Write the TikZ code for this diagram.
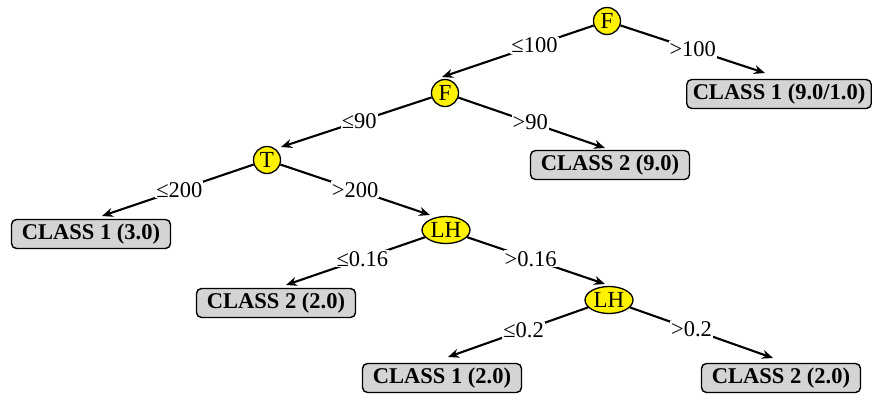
\documentclass[tikz,border=0pt]{standalone}
\usepackage{fontspec}
\setmainfont{Liberation Serif}
\usetikzlibrary{arrows.meta,shapes.geometric}
\tikzset{
  x=1pt, y=-1pt,
  test/.style={draw=black, line width=1.3pt, fill=yellow, font=\fontsize{23}{23}\selectfont, inner sep=0pt},
  testc/.style={test, circle, minimum size=27pt},
  teste/.style={test, ellipse, minimum width=48pt, minimum height=27pt},
  leaf/.style={draw=black, line width=1.4pt, fill=black!17, rounded corners=5pt, font=\fontsize{22.5}{22.5}\bfseries\selectfont, minimum height=29pt, minimum width=159pt, inner xsep=6pt, inner ysep=0pt},
  edge/.style={line width=2.1pt, -{Stealth[length=11pt,width=9pt]}},
  lab/.style={fill=white, inner sep=1pt, font=\fontsize{22.5}{22.5}\selectfont},
}
\begin{document}
\begin{tikzpicture}
\useasboundingbox (0,0) rectangle (872,394);
\node[testc] (F1) at (607,21) {F};
\node[testc] (F2) at (445,93) {F};
\node[testc] (T) at (267,160) {T};
\node[teste] (LH1) at (446,230) {LH};
\node[teste] (LH2) at (609,300) {LH};
\node[leaf] (C1a) at (779,94) {CLASS 1 (9.0/1.0)};
\node[leaf] (C2a) at (610,165) {CLASS 2 (9.0)};
\node[leaf] (C1b) at (91,234) {CLASS 1 (3.0)};
\node[leaf] (C2b) at (276,303) {CLASS 2 (2.0)};
\node[leaf] (C1c) at (442,378) {CLASS 1 (2.0)};
\node[leaf] (C2c) at (781,378) {CLASS 2 (2.0)};
\coordinate (t1) at (442,77);
\coordinate (t2) at (765,73);
\coordinate (t3) at (281,147);
\coordinate (t4) at (605,148);
\coordinate (t5) at (102,216);
\coordinate (t6) at (430,215);
\coordinate (t7) at (286,285);
\coordinate (t8) at (605,284);
\coordinate (t9) at (448,357);
\coordinate (t10) at (773,358);
\draw[edge] (F1) -- node[lab,pos=0.39] {≤100} (t1);
\draw[edge] (F1) -- node[lab,pos=0.5] {>100} (t2);
\draw[edge] (F2) -- node[lab,pos=0.48] {≤90} (t3);
\draw[edge] (F2) -- node[lab,pos=0.49] {>90} (t4);
\draw[edge] (T) -- node[lab,pos=0.49] {≤200} (t5);
\draw[edge] (T) -- node[lab,pos=0.5] {>200} (t6);
\draw[edge] (LH1) -- node[lab,pos=0.45] {≤0.16} (t7);
\draw[edge] (LH1) -- node[lab,pos=0.46] {>0.16} (t8);
\draw[edge] (LH2) -- node[lab,pos=0.46] {≤0.2} (t9);
\draw[edge] (LH2) -- node[lab,pos=0.43] {>0.2} (t10);
\end{tikzpicture}
\end{document}
